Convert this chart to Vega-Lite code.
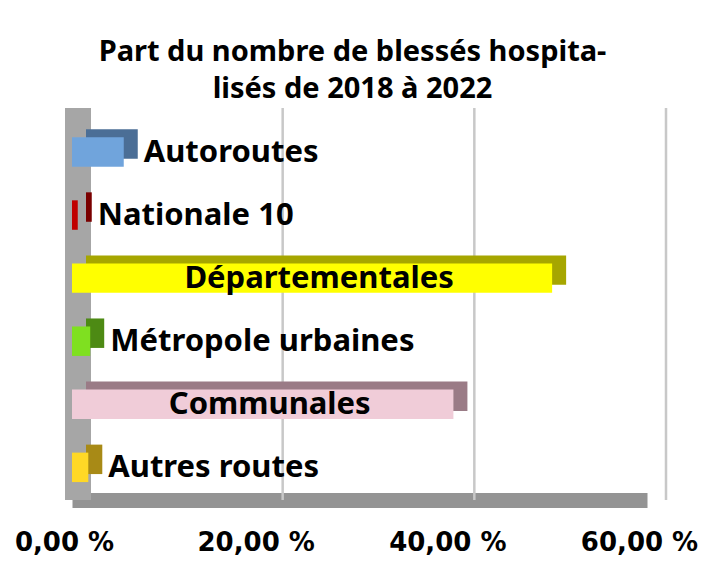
{
  "$schema": "https://vega.github.io/schema/vega-lite/v6.json",
  "autosize": "none",
  "width": 575,
  "height": 392,
  "padding": {"left": 72, "top": 108, "right": 57, "bottom": 61},
  "background": "white",
  "config": {"view": {"stroke": null}, "font": "Noto Sans"},
  "title": {
    "text": ["Part du nombre de blessés hospita-", "lisés de 2018 à 2022"],
    "font": "Noto Sans",
    "fontSize": 29,
    "fontWeight": "bold",
    "color": "black",
    "anchor": "middle",
    "frame": "group",
    "dx": -7,
    "offset": 3,
    "lineHeight": 37
  },
  "data": {
    "values": [
      {"cat": "Autoroutes", "value": 5.4},
      {"cat": "Nationale 10", "value": 0.6},
      {"cat": "Départementales", "value": 50.1},
      {"cat": "Métropole urbaines", "value": 1.9},
      {"cat": "Communales", "value": 39.8},
      {"cat": "Autres routes", "value": 1.7}
    ]
  },
  "resolve": {"scale": {"x": "independent"}},
  "layer": [
    {
      "mark": {"type": "rect", "color": "#a6a6a6"},
      "encoding": {
        "x": {"datum": -0.73, "type": "quantitative", "scale": {"domain": [0, 60], "nice": false, "zero": false}, "axis": null},
        "x2": {"datum": 1.98}
      }
    },
    {
      "data": {"values": [{"g": 20}, {"g": 40}, {"g": 60}]},
      "mark": {"type": "rule", "color": "#c8c8c8", "strokeWidth": 2.5, "xOffset": 19},
      "encoding": {
        "x": {"field": "g", "type": "quantitative", "scale": {"domain": [0, 60], "nice": false}, "axis": null}
      }
    },
    {
      "mark": {"type": "bar", "xOffset": 14, "x2Offset": 14, "yOffset": -8, "y2Offset": -8},
      "encoding": {
        "y": {"field": "cat", "type": "nominal", "sort": null, "axis": null,
              "scale": {"paddingInner": 0.533, "paddingOuter": 0.374, "align": 0.62}},
        "x": {"field": "value", "type": "quantitative", "scale": {"domain": [0, 60], "nice": false}, "axis": null},
        "fill": {"field": "cat", "type": "nominal", "legend": null,
                 "scale": {"domain": ["Autoroutes", "Nationale 10", "Départementales", "Métropole urbaines", "Communales", "Autres routes"],
                           "range": ["#4b6e96", "#7a0000", "#a6a600", "#4d8a14", "#9a7b86", "#a88a16"]}}
      }
    },
    {
      "mark": {"type": "bar"},
      "encoding": {
        "y": {"field": "cat", "type": "nominal", "sort": null, "axis": null},
        "x": {"field": "value", "type": "quantitative", "scale": {"domain": [0, 60], "nice": false},
              "axis": {
                "values": [0, 20, 40, 60],
                "labelExpr": "replace(format(datum.value, '.2f'), '.', ',') + ' %'",
                "title": null,
                "grid": false,
                "ticks": false,
                "domain": true,
                "domainColor": "#949494",
                "domainWidth": 15,
                "labelFont": "DejaVu Sans",
                "labelFontSize": 26,
                "labelFontWeight": "bold",
                "labelColor": "black",
                "labelPadding": 29,
                "labelOffset": -8,
                "labelFlush": false,
                "labelBound": false,
                "labelOverlap": false
              }},
        "color": {"field": "cat", "type": "nominal", "legend": null,
                  "scale": {"domain": ["Autoroutes", "Nationale 10", "Départementales", "Métropole urbaines", "Communales", "Autres routes"],
                            "range": ["#70a4dc", "#c00000", "#ffff00", "#7fe020", "#f0ccd8", "#ffd826"]}}
      }
    },
    {
      "transform": [{"filter": "datum.value < 20"}],
      "mark": {"type": "text", "align": "left", "baseline": "middle", "dx": 20, "dy": 1, "font": "Noto Sans", "fontSize": 31, "fontWeight": "bold", "color": "black"},
      "encoding": {
        "y": {"field": "cat", "type": "nominal", "sort": null, "axis": null},
        "x": {"field": "value", "type": "quantitative", "scale": {"domain": [0, 60], "nice": false}, "axis": null},
        "text": {"field": "cat"}
      }
    },
    {
      "transform": [{"filter": "datum.value >= 20"}],
      "mark": {"type": "text", "align": "center", "baseline": "middle", "dx": 7, "dy": 1, "font": "Noto Sans", "fontSize": 31, "fontWeight": "bold", "color": "black"},
      "encoding": {
        "y": {"field": "cat", "type": "nominal", "sort": null, "axis": null},
        "x": {"field": "value", "type": "quantitative", "scale": {"domain": [0, 120], "nice": false}, "axis": null},
        "text": {"field": "cat"}
      }
    }
  ]
}
